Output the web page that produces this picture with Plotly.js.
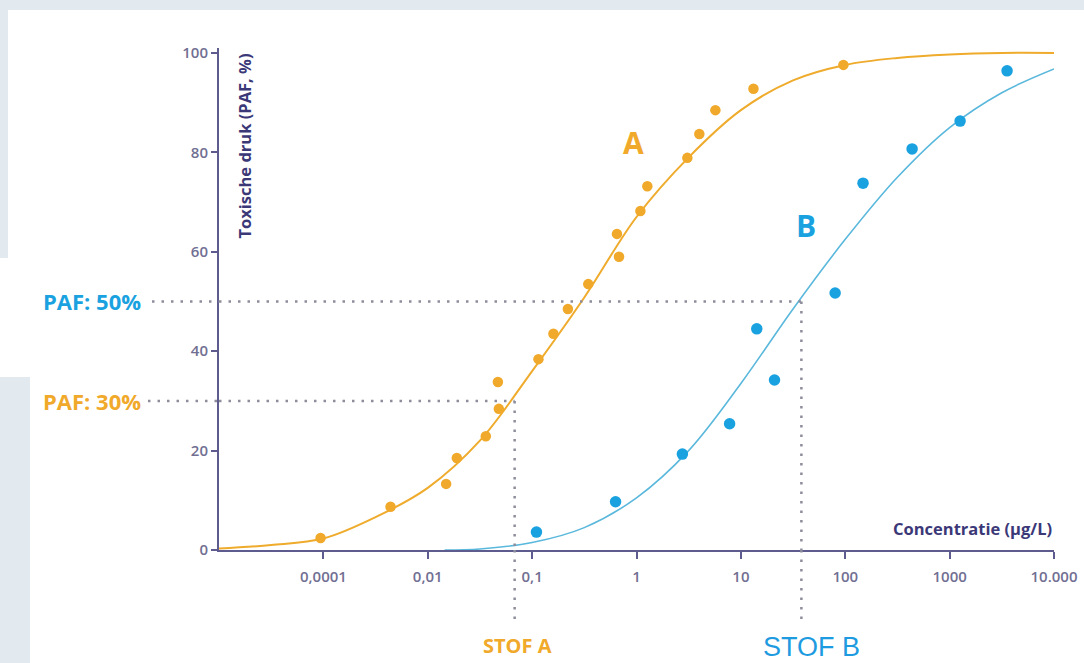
<!DOCTYPE html>
<html><head><meta charset="utf-8">
<script src="https://cdn.plot.ly/plotly-3.0.1.min.js"></script>
<style>html,body{margin:0;padding:0;background:#fff}</style>
</head><body><div id="chart" style="width:1084px;height:663px"></div>
<script>
// ---- data ----
const xTickVals = [0.001, 0.01, 0.1, 1, 10, 100, 1000, 10000];
const xTickLabels = ['0,0001', '0,01', '0,1', '1', '10', '100', '1000', '10.000'];
const yTickVals = [0, 20, 40, 60, 80, 100];

// measured points, substance A
const concA = [0.00094, 0.0044, 0.015, 0.019, 0.036, 0.047, 0.048, 0.115, 0.16, 0.22, 0.345, 0.68, 0.65, 1.09, 1.27, 3.07, 4.0, 5.7, 13.2, 96];
const pafA  = [2.4, 8.7, 13.3, 18.5, 22.9, 33.8, 28.4, 38.4, 43.5, 48.5, 53.5, 59.0, 63.6, 68.2, 73.2, 78.9, 83.7, 88.5, 92.8, 97.6];
// measured points, substance B
const concB = [0.11, 0.63, 2.75, 7.8, 14.2, 21, 80, 148, 437, 1260, 3550];
const pafB  = [3.6, 9.7, 19.3, 25.4, 44.5, 34.2, 51.7, 73.8, 80.7, 86.3, 96.4];

// fitted curve A (every half decade)
const curveConcA = [0.0001, 0.000316, 0.001, 0.00316, 0.01, 0.0316, 0.1, 0.316, 1, 3.16, 10, 31.6, 100, 316, 1000, 3162, 10000];
const curvePafA  = [0.3, 1.0, 2.3, 6.6, 12.5, 22, 36, 50.8, 67, 79, 88.5, 94.5, 97.6, 99, 99.7, 100, 100];
// fitted curve B
const curveConcB = [0.0145, 0.0316, 0.1, 0.316, 1, 3.16, 10, 31.6, 100, 316, 1000, 3162, 10000];
const curvePafB  = [0, 0.2, 1.5, 4.5, 10.5, 20, 33.5, 48.5, 62.5, 75, 85, 92, 96.8];

// reference levels
const stofA = 0.068, pafLevelA = 30;
const stofB = 38, pafLevelB = 50;
const axisStart = 0.0001;

// ---- styling ----
const ORANGE = '#f0a92a', ORANGE_LINE = '#efab2c';
const BLUE = '#1aa2e0', BLUE_LINE = '#5ab8dc';
const AXIS = '#5e5b8f', TICKTXT = '#716f92', TITLE = '#3b3878';
const DOT = '#8d8d9c';
const FONT = 'Open Sans, sans-serif';

const ML = 219, MR = 30, MT = 48, MB = 113, W = 1084, H = 663;
const PW = W - ML - MR, PH = H - MT - MB;
const px = v => (v - ML) / PW;          // pixel -> paper (x), decoration only
const py = v => (H - MB - v) / PH;      // pixel -> paper (y), decoration only

const traces = [
  {x: curveConcA, y: curvePafA, mode: 'lines', line: {color: ORANGE_LINE, width: 2, shape: 'spline', smoothing: 1}, hoverinfo: 'skip'},
  {x: curveConcB, y: curvePafB, mode: 'lines', line: {color: BLUE_LINE, width: 1.6, shape: 'spline', smoothing: 1}, hoverinfo: 'skip'},
  {x: concA, y: pafA, mode: 'markers', marker: {color: ORANGE, size: 10.5}, cliponaxis: false},
  {x: concB, y: pafB, mode: 'markers', marker: {color: BLUE, size: 11.5}, cliponaxis: false}
];

const dotLine = {color: DOT, width: 2.5, dash: '2.5px,7px'};
const shapes = [
  // background decoration bands
  {type: 'rect', xref: 'paper', yref: 'paper', x0: px(-20), x1: px(W + 20), y0: py(10), y1: py(-20), fillcolor: '#e2eaf0', line: {width: 0}, layer: 'below'},
  {type: 'rect', xref: 'paper', yref: 'paper', x0: px(-20), x1: px(8), y0: py(258), y1: py(-20), fillcolor: '#e2eaf0', line: {width: 0}, layer: 'below'},
  {type: 'rect', xref: 'paper', yref: 'paper', x0: px(-20), x1: px(30), y0: py(H + 20), y1: py(377), fillcolor: '#e2eaf0', line: {width: 0}, layer: 'below'},
  // 50% level
  {type: 'line', xref: 'paper', yref: 'y', x0: px(152), x1: 0, y0: pafLevelB, y1: pafLevelB, line: dotLine},
  {type: 'line', xref: 'x', yref: 'y', x0: axisStart, x1: stofB, y0: pafLevelB, y1: pafLevelB, line: dotLine},
  {type: 'line', xref: 'x', yref: 'y', x0: stofB, x1: stofB, y0: pafLevelB, y1: 0, line: dotLine},
  {type: 'line', xref: 'x', yref: 'paper', x0: stofB, x1: stofB, y0: 0, y1: py(622), line: dotLine},
  // 30% level
  {type: 'line', xref: 'paper', yref: 'y', x0: px(148), x1: 0, y0: pafLevelA, y1: pafLevelA, line: dotLine},
  {type: 'line', xref: 'x', yref: 'y', x0: axisStart, x1: stofA, y0: pafLevelA, y1: pafLevelA, line: dotLine},
  {type: 'line', xref: 'x', yref: 'y', x0: stofA, x1: stofA, y0: pafLevelA, y1: 0, line: dotLine},
  {type: 'line', xref: 'x', yref: 'paper', x0: stofA, x1: stofA, y0: 0, y1: py(622), line: dotLine}
];

const annotations = [
  {text: 'Toxische druk (PAF, %)', textangle: -90, xref: 'paper', yref: 'paper', x: 0, y: 1, xshift: 25, yshift: -4,
   xanchor: 'center', yanchor: 'top', showarrow: false, font: {family: FONT, size: 16.5, color: TITLE, weight: 700}},
  {text: 'Concentratie (µg/L)', xref: 'paper', yref: 'paper', x: 1, y: 0, yshift: 8, xanchor: 'right', yanchor: 'bottom',
   showarrow: false, font: {family: FONT, size: 16.5, color: TITLE, weight: 700}},
  {text: 'PAF: 50%', xref: 'paper', yref: 'y', x: 0, y: pafLevelB, xshift: -76, xanchor: 'right', yanchor: 'middle',
   showarrow: false, font: {family: FONT, size: 22, color: BLUE, weight: 700}},
  {text: 'PAF: 30%', xref: 'paper', yref: 'y', x: 0, y: pafLevelA, xshift: -76, xanchor: 'right', yanchor: 'middle',
   showarrow: false, font: {family: FONT, size: 22, color: ORANGE, weight: 700}},
  {text: 'STOF A', xref: 'x', yref: 'paper', x: Math.log10(stofA), y: 0, yshift: -95, xshift: 3, xanchor: 'center', yanchor: 'middle',
   showarrow: false, font: {family: FONT, size: 20, color: ORANGE, weight: 700}},
  {text: 'STOF B', xref: 'x', yref: 'paper', x: Math.log10(stofB), y: 0, yshift: -97, xshift: 10, xanchor: 'center', yanchor: 'middle',
   showarrow: false, font: {family: 'Liberation Sans, Arial, sans-serif', size: 27, color: '#1e9be0'}},
  {text: 'A', xref: 'x', yref: 'y', x: Math.log10(0.93), y: 82, showarrow: false,
   font: {family: FONT, size: 30, color: ORANGE, weight: 700}},
  {text: 'B', xref: 'x', yref: 'y', x: Math.log10(42), y: 65.2, showarrow: false,
   font: {family: FONT, size: 30, color: BLUE, weight: 700}}
];

const layout = {
  width: W, height: H,
  margin: {l: ML, r: MR, t: MT, b: MB, pad: 0},
  paper_bgcolor: '#ffffff', plot_bgcolor: 'rgba(0,0,0,0)',
  showlegend: false,
  font: {family: FONT, color: TICKTXT},
  xaxis: {
    type: 'log', range: [-4, 4], tickvals: xTickVals, ticktext: xTickLabels,
    showgrid: false, zeroline: false, showline: true, linecolor: AXIS, linewidth: 2,
    ticks: 'outside', ticklen: 7, tickwidth: 2, tickcolor: AXIS,
    tickfont: {family: FONT, size: 15, color: TICKTXT, weight: 600}, ticklabelstandoff: 5
  },
  yaxis: {
    range: [0, 101], tickvals: yTickVals, showgrid: false, zeroline: false,
    showline: true, linecolor: AXIS, linewidth: 2,
    ticks: 'outside', ticklen: 6, tickwidth: 2, tickcolor: AXIS,
    tickfont: {family: FONT, size: 15, color: TICKTXT, weight: 600}
  },
  shapes: shapes,
  annotations: annotations
};

Plotly.newPlot('chart', traces, layout, {displayModeBar: false, staticPlot: true});
</script>
</body></html>
